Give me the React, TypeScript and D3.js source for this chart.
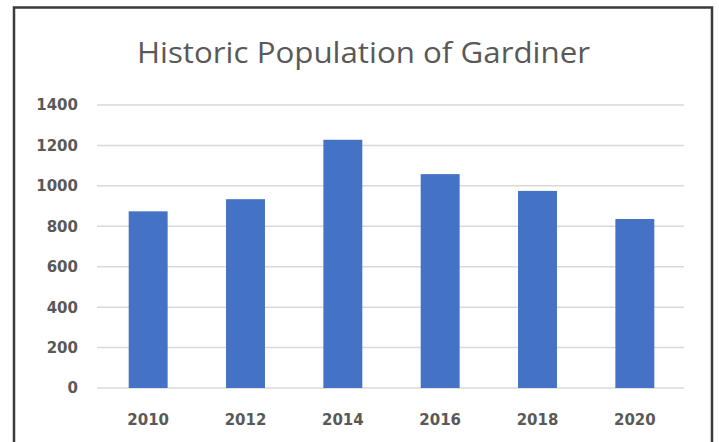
import * as d3 from "d3";

const years = ["2010", "2012", "2014", "2016", "2018", "2020"];
const population = [874, 934, 1228, 1058, 975, 836];
const yTicks = [0, 200, 400, 600, 800, 1000, 1200, 1400];

const W = 719;
const H = 442;

export default function App() {
  const x = d3.scaleBand<string>().domain(years).range([99.5, 683.5]).paddingInner(0.6).paddingOuter(0.3);
  const y = d3.scaleLinear().domain([0, 1400]).range([388, 105]);

  return (
    <svg
      width={W}
      height={H}
      style={{ position: "absolute", left: 0, top: 0, background: "#fff" }}
      fontFamily="'Open Sans', 'DejaVu Sans', sans-serif"
    >
      <rect x={0} y={0} width={W} height={H} fill="#fff" />
      {/* chart frame */}
      <rect x={14} y={7.5} width={698} height={460} fill="none" stroke="#3a3a3a" strokeWidth={2.5} />

      <text
        x={363.5}
        y={63}
        textAnchor="middle"
        fontSize={30}
        fill="#595959"
        textLength={453}
        lengthAdjust="spacingAndGlyphs"
      >
        Historic Population of Gardiner
      </text>

      {/* gridlines */}
      {yTicks.map((t) => (
        <line key={t} x1={97} x2={684} y1={y(t)} y2={y(t)} stroke="#d9d9d9" strokeWidth={1.5} />
      ))}

      {/* y labels */}
      {yTicks.map((t) => (
        <text
          key={"l" + t}
          x={78}
          y={y(t)}
          dy="0.36em"
          textAnchor="end"
          fontSize={15}
          fontWeight={700}
          fill="#595959"
          fontFamily="'DejaVu Sans', sans-serif"
        >
          {t}
        </text>
      ))}

      {/* bars */}
      {years.map((yr, i) => (
        <rect
          key={yr}
          x={x(yr)}
          y={y(population[i])}
          width={x.bandwidth()}
          height={y(0) - y(population[i])}
          fill="#4472C4"
        />
      ))}

      {/* x labels */}
      {years.map((yr) => (
        <text
          key={"x" + yr}
          x={(x(yr) ?? 0) + x.bandwidth() / 2}
          y={425}
          textAnchor="middle"
          fontSize={15}
          fontWeight={700}
          fill="#595959"
          fontFamily="'DejaVu Sans', sans-serif"
        >
          {yr}
        </text>
      ))}
    </svg>
  );
}
